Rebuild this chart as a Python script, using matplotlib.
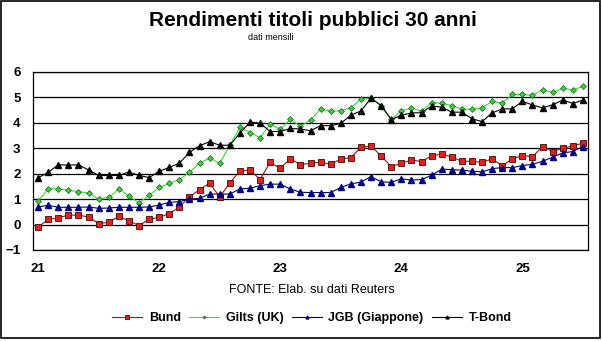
import matplotlib
matplotlib.use("Agg")
import matplotlib.pyplot as plt
from matplotlib.patches import Rectangle

plt.rcParams['font.family'] = ['Liberation Sans', 'DejaVu Sans']

# Dati mensili gen 2021 - lug 2025
bund = [-0.09, 0.20, 0.27, 0.37, 0.37, 0.30, 0.04, 0.09, 0.32, 0.15, -0.04, 0.20,
        0.29, 0.43, 0.69, 1.09, 1.37, 1.63, 1.09, 1.63, 2.11, 2.15, 1.77, 2.45,
        2.21, 2.59, 2.36, 2.41, 2.45, 2.37, 2.58, 2.63, 3.04, 3.09, 2.70, 2.28,
        2.41, 2.54, 2.48, 2.70, 2.78, 2.65, 2.49, 2.49, 2.45, 2.58, 2.32, 2.58,
        2.71, 2.67, 3.07, 2.87, 3.00, 3.10, 3.20]
gilts = [0.91, 1.41, 1.41, 1.34, 1.30, 1.24, 1.00, 1.07, 1.40, 1.13, 0.85, 1.15,
         1.46, 1.62, 1.77, 2.05, 2.42, 2.61, 2.41, 3.11, 3.83, 3.62, 3.42, 3.95,
         3.75, 4.14, 3.86, 4.11, 4.54, 4.46, 4.48, 4.60, 4.93, 4.97, 4.68, 4.14,
         4.46, 4.59, 4.46, 4.80, 4.77, 4.68, 4.54, 4.54, 4.58, 4.85, 4.77, 5.12,
         5.12, 5.08, 5.30, 5.20, 5.36, 5.30, 5.43]
jgb = [0.69, 0.76, 0.68, 0.68, 0.68, 0.69, 0.64, 0.65, 0.68, 0.68, 0.68, 0.69,
       0.77, 0.87, 0.90, 1.00, 1.03, 1.20, 1.20, 1.20, 1.40, 1.43, 1.53, 1.59,
       1.59, 1.40, 1.27, 1.26, 1.26, 1.26, 1.46, 1.60, 1.67, 1.89, 1.68, 1.66,
       1.80, 1.75, 1.77, 1.94, 2.18, 2.16, 2.14, 2.10, 2.07, 2.20, 2.24, 2.24,
       2.32, 2.37, 2.49, 2.65, 2.82, 2.87, 3.07]
tbond = [1.84, 2.05, 2.35, 2.34, 2.35, 2.15, 1.93, 1.93, 1.93, 2.07, 1.93, 1.85,
         2.09, 2.25, 2.41, 2.84, 3.10, 3.26, 3.12, 3.12, 3.59, 4.03, 3.99, 3.66,
         3.66, 3.78, 3.76, 3.69, 3.89, 3.89, 3.98, 4.30, 4.47, 4.97, 4.68, 4.13,
         4.30, 4.39, 4.40, 4.66, 4.62, 4.42, 4.42, 4.16, 4.05, 4.39, 4.55, 4.55,
         4.85, 4.70, 4.59, 4.71, 4.90, 4.76, 4.90]
year_labels = ['21', '22', '23', '24', '25']

months = list(range(len(bund)))

fig = plt.figure(figsize=(6.02, 3.41), dpi=100)
ax = fig.add_axes([33 / 602, 1 - 250 / 341, 555 / 602, 178 / 341])

ax.plot(months, bund, color='#a01010', lw=0.8, marker='s', ms=4.5,
        mfc='#dd2020', mec='#500000', mew=0.6, label='Bund')
ax.plot(months, gilts, color='#33dd33', lw=0.8, marker='D', ms=3,
        mfc='#44cc44', mec='#106010', mew=0.5, label='Gilts (UK)')
ax.plot(months, jgb, color='#000080', lw=0.8, marker='^', ms=4.2,
        mfc='#000080', mec='#000080', label='JGB (Giappone)')
ax.plot(months, tbond, color='black', lw=0.8, marker='^', ms=4.2,
        mfc='black', mec='black', label='T-Bond')

ax.set_xlim(-0.5, 54.5)
ax.set_ylim(-1, 6)
ax.set_yticks(range(-1, 7))
ax.set_xticks(range(0, 60, 12))
ax.set_xticklabels(year_labels)
ax.yaxis.grid(True, color='black', lw=0.9)
ax.set_axisbelow(True)
ax.tick_params(length=0, labelsize=9.5, pad=9)
for lab in ax.get_xticklabels() + ax.get_yticklabels():
    lab.set_fontweight('bold')
for s in ax.spines.values():
    s.set_linewidth(0.9)

fig.text(313 / 602, 1 - 20 / 341, 'Rendimenti titoli pubblici 30 anni',
         ha='center', va='center', fontsize=15, fontweight='bold')
fig.text(271 / 602, 1 - 37 / 341, 'dati mensili', ha='center', va='center',
         fontsize=6.5)
fig.text(312 / 602, 1 - 290 / 341, 'FONTE: Elab. su dati Reuters',
         ha='center', va='center', fontsize=9)

leg = fig.legend(loc='center', bbox_to_anchor=(312 / 602, 1 - 318 / 341),
                 ncol=4, frameon=False, prop={'weight': 'bold', 'size': 9},
                 handlelength=2.4, handletextpad=0.5, columnspacing=0.7,
                 markerscale=0.5)

fig.patches.append(Rectangle((1 / 602, 3 / 341), 599 / 602, 337 / 341,
                             transform=fig.transFigure, fill=False,
                             edgecolor='black', lw=1.2))

fig.savefig('out.png', dpi=100)
